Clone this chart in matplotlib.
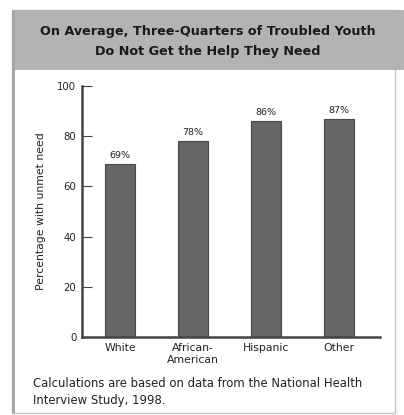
import matplotlib.pyplot as plt
from matplotlib.patches import Rectangle

# data
groups = ['White', 'African-\nAmerican', 'Hispanic', 'Other']
unmet = [69, 78, 86, 87]
yticks = [0, 20, 40, 60, 80, 100]

plt.rcParams['font.family'] = ['DejaVu Sans']

fig = plt.figure(figsize=(4.04, 4.15), dpi=100)
W, H = 404.0, 415.0

# frame + title band
fig.patches.append(Rectangle((12 / W, 1 - 413 / H), (395 - 12) / W, (413 - 10) / H,
                             transform=fig.transFigure, facecolor='white',
                             edgecolor='#c4c4c4', linewidth=1.0, zorder=0))
fig.patches.append(Rectangle((15 / W, 1 - 70 / H), (404 - 15) / W, 60 / H,
                             transform=fig.transFigure, facecolor='#b3b3b3',
                             edgecolor='none', zorder=1))
fig.patches.append(Rectangle((12 / W, 1 - 413 / H), 3 / W, (413 - 10) / H,
                             transform=fig.transFigure, facecolor='#a8a8a8',
                             edgecolor='none', zorder=1))
fig.text(208 / W, 1 - 41.5 / H,
         'On Average, Three-Quarters of Troubled Youth\nDo Not Get the Help They Need',
         ha='center', va='center', fontsize=9.2, fontweight='bold',
         linespacing=1.6, color='#1a1a1a')

ax = fig.add_axes([82 / W, 1 - 337 / H, (380 - 82) / W, (337 - 86) / H])
ax.set_zorder(3)
x = range(len(groups))
bars = ax.bar(x, unmet, width=0.41, color='#666666', edgecolor='#484848', linewidth=0.8)
for b, v in zip(bars, unmet):
    ax.text(b.get_x() + b.get_width() / 2, v + 1.5, f'{v}%', ha='center', va='bottom',
            fontsize=6.8, color='#222')

ax.set_xlim(-0.52, 3.56)
ax.set_ylim(0, 100)
ax.set_yticks(yticks)
ax.set_xticks(list(x))
ax.set_xticklabels(groups, fontsize=7.8, color='#222', linespacing=1.35)
ax.tick_params(axis='x', length=0, pad=4)
ax.tick_params(axis='y', direction='in', length=7, width=0.8, colors='#444',
               labelcolor='#222', labelsize=7.3, pad=4)
for s in ['top', 'right']:
    ax.spines[s].set_visible(False)
for s in ['left', 'bottom']:
    ax.spines[s].set_color('#444')
    ax.spines[s].set_linewidth(1.8)
ax.set_ylabel('Percentage with unmet need', fontsize=7.8, color='#222', labelpad=8)
ax.patch.set_alpha(0)

fig.text(33 / W, 1 - 392 / H,
         'Calculations are based on data from the National Health\nInterview Study, 1998.',
         ha='left', va='center', fontsize=8.4, color='#222', linespacing=1.35)

fig.savefig('out.png', dpi=100)
